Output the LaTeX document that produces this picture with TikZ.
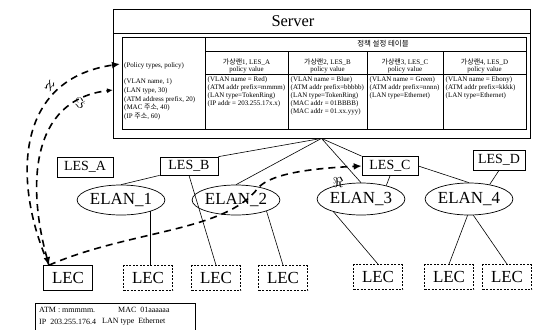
\documentclass[tikz,border=0pt]{standalone}
\usepackage{fontspec}
\setmainfont{Liberation Serif}
\newfontfamily\kr{Noto Sans CJK KR}
\usetikzlibrary{shapes.geometric,arrows.meta}
\begin{document}
\begin{tikzpicture}[x=1bp,y=-1bp,
  thinl/.style={line width=0.6bp},
  lesbox/.style={draw, line width=0.7bp, inner sep=0pt, font=\fontsize{14}{14}\selectfont},
  elan/.style={draw, ellipse, line width=0.7bp, inner sep=0pt, font=\fontsize{17}{17}\selectfont},
  lecbox/.style={draw, dash pattern=on 2bp off 1.5bp, line width=0.7bp, minimum width=49bp, minimum height=25bp, inner sep=0pt, font=\fontsize{17}{17}\selectfont},
  flow/.style={line width=1.6bp, dash pattern=on 7bp off 5bp},
  tip/.style={-{Latex[length=8bp,width=7bp]}},
  cell/.style={anchor=west, inner sep=0pt, font=\fontsize{7}{7}\selectfont},
  hcell/.style={inner sep=0pt, font=\fontsize{7}{7}\selectfont},
  icell/.style={anchor=west, inner sep=0pt, font=\fontsize{8}{8}\selectfont},
  flab/.style={inner sep=0pt, font=\fontsize{14}{14}\selectfont},
]
\useasboundingbox (0,0) rectangle (536,329);

% Server box and table
\node[draw, line width=0.8bp, minimum width=417bp, minimum height=129bp, inner sep=0pt] (srv) at (321.5,73.5) {};
\draw[thinl] (113,33) -- (530,33);
\node[inner sep=0pt, font=\fontsize{16.5}{16.5}\selectfont] (srvt) at (293,21) {Server};
\draw[thinl] (122,37) rectangle (526,129);
\draw[thinl] (205,37) -- (205,129);
\draw[thinl] (205,51) -- (526,51);
\draw[thinl] (205,74) -- (526,74);
\draw[thinl] (288,51) -- (288,129);
\draw[thinl] (367,51) -- (367,129);
\draw[thinl] (443,51) -- (443,129);
\node[inner sep=0pt, font=\kr\fontsize{7.5}{7.5}\selectfont] (thd) at (383,44) {정책 설정 테이블};

\node[cell] (p0) at (124,66) {(Policy types, policy)};
\node[cell] (p1) at (124,82) {(VLAN name, 1)};
\node[cell] (p2) at (124,91) {(LAN type, 30)};
\node[cell] (p3) at (124,99.5) {(ATM address prefix, 20)};
\node[cell] (p4) at (124,108) {(MAC {\kr 주소}, 40)};
\node[cell] (p5) at (124,117) {(IP {\kr 주소}, 60)};

\node[hcell] (h1a) at (246.5,62) {{\kr 가상랜}1, LES\_A};
\node[hcell] (h1b) at (246.5,70) {policy value};
\node[hcell] (h2a) at (327.5,62) {{\kr 가상랜}2, LES\_B};
\node[hcell] (h2b) at (327.5,70) {policy value};
\node[hcell] (h3a) at (405,62) {{\kr 가상랜}3, LES\_C};
\node[hcell] (h3b) at (405,70) {policy value};
\node[hcell] (h4a) at (484.5,62) {{\kr 가상랜}4, LES\_D};
\node[hcell] (h4b) at (484.5,70) {policy value};

\node[cell] (a1) at (207.5,80) {(VLAN name = Red)};
\node[cell] (a2) at (207.5,88) {(ATM addr prefix=mmmm)};
\node[cell] (a3) at (207.5,96) {(LAN type=TokenRing)};
\node[cell] (a4) at (207.5,104) {(IP addr = 203.255.17x.x)};

\node[cell] (b1) at (290.5,80) {(VLAN name = Blue)};
\node[cell] (b2) at (290.5,88) {(ATM addr prefix=bbbbb)};
\node[cell] (b3) at (290.5,96) {(LAN type=TokenRing)};
\node[cell] (b4) at (290.5,104) {(MAC addr = 01BBBB)};
\node[cell] (b5) at (290.5,112) {(MAC addr = 01.xx.yyy)};

\node[cell] (c1) at (369.5,80) {(VLAN name = Green)};
\node[cell] (c2) at (369.5,88) {(ATM addr prefix=nnnn)};
\node[cell] (c3) at (369.5,96) {(LAN type=Ethernet)};

\node[cell] (d1) at (445.5,80) {(VLAN name = Ebony)};
\node[cell] (d2) at (445.5,88) {(ATM addr prefix=kkkk)};
\node[cell] (d3) at (445.5,96) {(LAN type=Ethernet)};

% LES nodes
\node[lesbox, minimum width=56bp, minimum height=20bp] (LESA) at (85,167) {LES\_A};
\node[lesbox, minimum width=58bp, minimum height=18bp] (LESB) at (189,166) {LES\_B};
\node[lesbox, minimum width=56bp, minimum height=19bp] (LESC) at (390,166) {LES\_C};
\node[lesbox, minimum width=52bp, minimum height=20bp] (LESD) at (499,160) {LES\_D};

% ELAN nodes
\node[elan, minimum width=76bp, minimum height=30bp] (ELAN1) at (121,200) {ELAN\_1};
\node[elan, minimum width=82bp, minimum height=30bp] (ELAN2) at (236,200) {ELAN\_2};
\node[elan, minimum width=81bp, minimum height=32bp] (ELAN3) at (361,199) {ELAN\_3};
\node[elan, minimum width=82bp, minimum height=32bp] (ELAN4) at (469,199) {ELAN\_4};

% LEC nodes
\node[lecbox, solid] (LEC1) at (68,278) {LEC};
\node[lecbox] (LEC2) at (148,278) {LEC};
\node[lecbox] (LEC3) at (216,278) {LEC};
\node[lecbox] (LEC4) at (283,278) {LEC};
\node[lecbox] (LEC5) at (378,277) {LEC};
\node[lecbox] (LEC6) at (449,277) {LEC};
\node[lecbox] (LEC7) at (507,277) {LEC};

% info box
\draw[line width=0.7bp] (35,303) rectangle (195,340);
\node[icell] (i1) at (39,310) {ATM : mmmmm.};
\node[icell] (i2) at (118,310) {MAC\enspace 01aaaaaa};
\node[icell] (i3) at (39,321.5) {IP\enspace 203.255.176.4};
\node[icell] (i4) at (102,321.5) {LAN type\enspace Ethernet};

% connectors
\draw[thinl] (srv.south) -- (LESB.north east);
\draw[thinl] (srv.south) -- (ELAN2.north);
\draw[thinl] (srv.south) -- (ELAN3.north);
\draw[thinl] (srv.south) -- (LESC.north west);
\draw[thinl] (LESB.south west) -- (ELAN1.north);
\draw[thinl] (LESB.south) -- (LEC3.north);
\draw[thinl] (ELAN1.-21) -- (ELAN1.-21 |- LEC2.north);
\draw[thinl] (ELAN2.-20) -- (LEC4.north);
\draw[thinl] (ELAN3.205) -- (LEC5.north);
\draw[thinl] (LESC.south) -- (ELAN3.28);
\draw[thinl] (LESC.east) -- (ELAN4.north);
\draw[thinl] (LESD.south) -- (ELAN4.35);
\draw[thinl] (ELAN4.-95) -- (LEC6.north);
\draw[thinl] (ELAN4.-75) -- (LEC7.north);

% flows
\coordinate (lecin) at ([xshift=-19bp]LEC1.north);
\coordinate (polA) at (120,64);
\coordinate (polB) at (113,90);
\draw[flow, tip] (lecin) .. controls (15,190) and (10,80) .. (polA);
\draw[flow, {Latex[length=8bp,width=7bp]}-{Latex[length=6bp,width=5bp]}] (lecin) .. controls (28,190) and (28,100) .. (polB);
\draw[flow, tip] (lecin) .. controls (130,230) and (225,232) .. (258,188) .. controls (272,172) and (320,168) .. (LESC.west);
\node[flab, rotate=-35] (lab1) at (50,86) {$\aleph$};
\node[flab, rotate=-15] (lab2) at (80,103) {$\Im$};
\node[flab] (lab3) at (338,183) {$\Re$};
\end{tikzpicture}
\end{document}
